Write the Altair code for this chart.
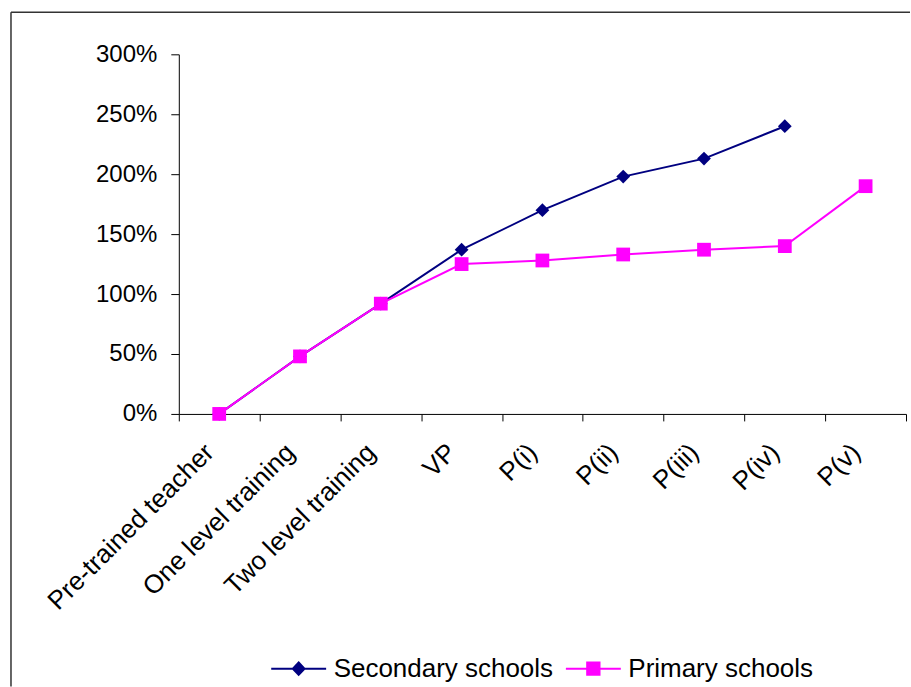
import altair as alt
import pandas as pd

# Career stages along the x axis
categories = [
    "Pre-trained teacher",
    "One level training",
    "Two level training",
    "VP",
    "P(i)",
    "P(ii)",
    "P(iii)",
    "P(iv)",
    "P(v)",
]

# Salary increase (%) for each stage
secondary = [0, 48, 92, 137, 170, 198, 213, 240, None]
primary = [0, 48, 92, 125, 128, 133, 137, 140, 190]

series_names = ["Secondary schools", "Primary schools"]
series_colors = ["#000080", "#FF00FF"]
y_ticks = [0, 50, 100, 150, 200, 250, 300]

rows = []
for name, vals in zip(series_names, [secondary, primary]):
    for stage, v in zip(categories, vals):
        if v is not None:
            rows.append({"stage": stage, "series": name, "pct": v})
df = pd.DataFrame(rows)

FONT = "Liberation Sans"

x_enc = alt.X(
    "stage:N",
    sort=categories,
    bandPosition=0.5,
    scale=alt.Scale(type="band", domain=categories, paddingInner=0, paddingOuter=0),
    axis=alt.Axis(
        title=None,
        labelAngle=-45,
        labelAlign="right",
        labelBaseline="middle",
        labelPadding=27,
        labelOffset=-10,
        labelFontSize=26,
        labelFont=FONT,
        labelColor="black",
        labelLimit=400,
        labelOverlap=False,
        tickBand="extent",
        tickSize=7,
        tickColor="black",
        domainColor="black",
        grid=False,
    ),
)

y_enc = alt.Y(
    "pct:Q",
    scale=alt.Scale(domain=[0, 300], nice=False),
    axis=alt.Axis(
        title=None,
        values=y_ticks,
        labelExpr="datum.value + '%'",
        labelFontSize=24,
        labelFont=FONT,
        labelColor="black",
        labelPadding=14,
        tickSize=8,
        tickColor="black",
        domainColor="black",
        grid=False,
    ),
)


def series_layer(name, color, shape):
    base = alt.Chart(df).transform_filter(alt.datum.series == name)
    line = base.mark_line(color=color, strokeWidth=2).encode(x=x_enc, y=y_enc)
    pts = base.mark_point(
        shape=shape, filled=True, color=color, size=190, opacity=1
    ).encode(x=x_enc, y=y_enc)
    return line + pts


# Legend symbols: a short line with the series marker in the middle
legend_paths = [
    "M-4.23,0H4.23M0,-0.95L0.9,0L0,0.95L-0.9,0Z",
    "M-4.23,0H4.23M-0.95,-0.95H0.95V0.95H-0.95Z",
]

legend_def = alt.Legend(
    title=None,
    orient="none",
    direction="horizontal",
    legendX=107,
    legendY=602,
    padding=0,
    symbolSize=169,
    symbolStrokeWidth=2,
    symbolOpacity=1,
    labelOffset=22,
    columnPadding=8,
    labelFontSize=26,
    labelFont=FONT,
    labelColor="black",
    labelLimit=400,
    gridAlign="none",
)

legend_layer = (
    alt.Chart(df)
    .transform_filter("false")
    .mark_point(filled=True, opacity=1)
    .encode(
        x=x_enc,
        y=y_enc,
        fill=alt.Fill(
            "series:N",
            scale=alt.Scale(domain=series_names, range=series_colors),
            legend=legend_def,
        ),
        stroke=alt.Stroke(
            "series:N",
            scale=alt.Scale(domain=series_names, range=series_colors),
            legend=legend_def,
        ),
        shape=alt.Shape(
            "series:N",
            scale=alt.Scale(domain=series_names, range=legend_paths),
            legend=legend_def,
        ),
    )
)

# Outer frame of the chart (top and left edges)
frame_df = pd.DataFrame({"k": [0]})
frame_top = alt.Chart(frame_df).mark_rule(color="#333333", strokeWidth=1.5).encode(
    x=alt.value(-168), x2=alt.value(732), y=alt.value(-42)
)
frame_left = alt.Chart(frame_df).mark_rule(color="#333333", strokeWidth=1.5).encode(
    x=alt.value(-168), y=alt.value(-42), y2=alt.value(633)
)

chart = (
    alt.layer(
        frame_top,
        frame_left,
        series_layer("Secondary schools", "#000080", "diamond"),
        series_layer("Primary schools", "#FF00FF", "square"),
        legend_layer,
    )
    .properties(
        width=728,
        height=360,
        padding={"left": 10, "top": 11, "right": 0, "bottom": 0},
        background="white",
    )
    .configure_view(stroke=None)
)

chart.save("out.html", embed_options={"renderer": "svg", "actions": False})
